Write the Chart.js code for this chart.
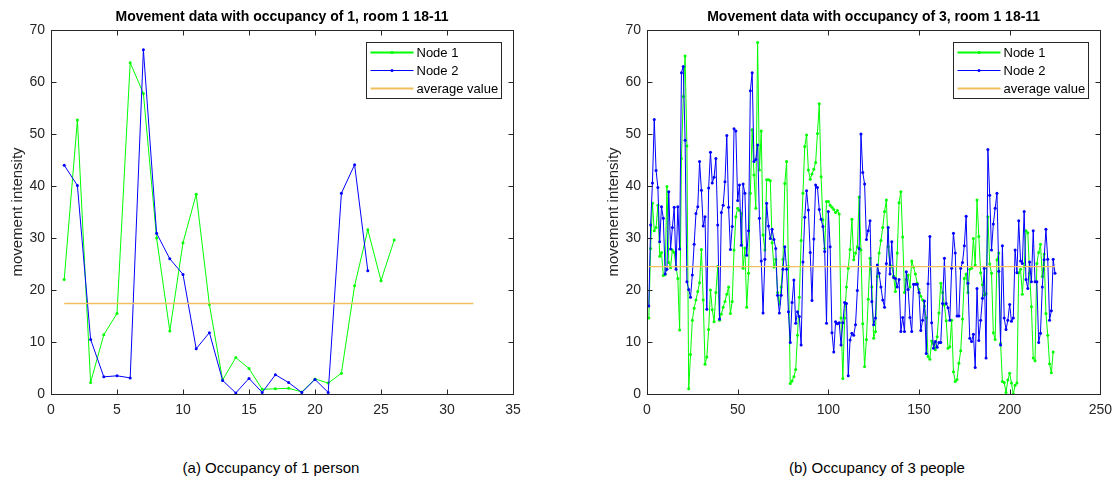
<!DOCTYPE html>
<html>
<head>
<meta charset="utf-8">
<title>Movement data</title>
<script src="https://cdn.jsdelivr.net/npm/chart.js@4.4.1/dist/chart.umd.min.js"></script>
<style>
    body {
        margin: 0;
        width: 1120px;
        height: 482px;
        position: relative;
        overflow: hidden;
        background: #fff;
        font-family: "Liberation Sans", Arial, sans-serif;
    }
    canvas { position: absolute; top: 0; }
    #graficoOcup1 { left: 0; }
    #graficoOcup3 { left: 560px; }
    .caption {
        position: absolute;
        top: 459px;
        width: 400px;
        font-size: 15px;
        line-height: 18px;
        text-align: center;
        color: #000;
    }
</style>
</head>
<body>
<canvas id="graficoOcup1" width="560" height="430"></canvas>
<canvas id="graficoOcup3" width="560" height="430"></canvas>
<div class="caption" style="left:71px">(a) Occupancy of 1 person</div>
<div class="caption" style="left:677px">(b) Occupancy of 3 people</div>

<script>
// -------------------------------
// Datos: ocupación 1 persona
// -------------------------------
const node1Occ1 = [22.0, 52.7, 2.2, 11.4, 15.5, 63.7, 57.8, 30.0, 12.1, 29.1,
    38.4, 17.2, 2.7, 7.0, 4.9, 0.9, 1.0, 1.1, 0.4, 2.9,
    2.1, 4.0, 20.8, 31.6, 21.8, 29.6];
const node2Occ1 = [44.0, 40.1, 10.5, 3.3, 3.5, 3.1, 66.2, 30.9, 26.0, 23.0,
    8.7, 11.8, 2.6, 0.2, 3.0, 0.3, 3.7, 2.2, 0.3, 2.8,
    0.3, 38.6, 44.1, 23.7];
const averageOcc1 = 17.4;
const averageRangeOcc1 = [1, 32];
const xTicksOcc1 = [0, 35, 5];

// -------------------------------
// Datos: ocupación 3 personas
// -------------------------------
const node1Occ3 = [14.6, 28.0, 36.7, 31.4, 32.0, 36.3, 26.5, 27.2, 22.8, 23.0,
    39.9, 25.3, 24.3, 27.7, 27.2, 24.5, 22.2, 12.3, 45.3, 57.2,
    65.0, 47.7, 1.0, 7.6, 14.2, 16.5, 18.1, 19.7, 21.4, 27.8,
    18.1, 5.7, 7.1, 12.4, 20.0, 16.2, 13.9, 19.5, 24.5, 14.2,
    15.4, 16.7, 17.8, 19.2, 20.6, 15.5, 17.8, 27.7, 34.1, 35.7,
    35.3, 34.7, 24.2, 28.1, 16.7, 23.2, 38.6, 50.8, 42.1, 35.7,
    67.6, 43.1, 50.6, 30.6, 27.7, 41.2, 41.2, 41.0, 29.1, 24.4,
    25.9, 19.5, 17.3, 20.6, 25.9, 40.5, 44.7, 24.5, 2.0, 2.5,
    3.3, 4.7, 11.3, 18.6, 29.5, 38.6, 47.6, 49.8, 43.1, 41.3,
    42.3, 43.2, 44.5, 50.1, 55.8, 41.8, 33.5, 28.0, 37.0, 37.0,
    36.3, 35.9, 35.5, 34.9, 35.3, 34.6, 14.6, 3.0, 14.6, 20.6,
    24.2, 27.8, 33.6, 25.8, 27.1, 28.3, 37.9, 27.7, 13.5, 5.3,
    10.5, 18.2, 26.1, 20.6, 10.7, 12.0, 22.6, 27.1, 29.5, 32.0,
    35.1, 37.3, 28.3, 24.8, 24.5, 22.7, 19.7, 27.1, 36.8, 38.9,
    30.2, 19.5, 22.0, 22.9, 20.6, 25.6, 24.4, 23.1, 21.3, 20.1,
    18.8, 18.1, 16.9, 14.6, 7.2, 6.7, 10.2, 9.7, 8.5, 11.0,
    15.6, 21.3, 19.5, 17.1, 14.1, 8.8, 9.1, 14.2, 4.3, 2.4,
    2.8, 5.9, 8.3, 14.4, 22.2, 23.1, 19.5, 24.0, 24.2, 29.9,
    24.8, 37.3, 30.3, 23.3, 21.0, 19.0, 19.3, 34.1, 25.0, 23.2,
    11.8, 10.5, 25.8, 27.1, 9.7, 2.4, 2.2, 0.3, 2.7, 4.0,
    2.1, 0.0, 1.7, 2.1, 23.3, 24.0, 19.2, 24.5, 31.4, 31.0,
    23.2, 16.8, 6.9, 6.4, 25.1, 27.2, 28.8, 22.6, 26.9, 15.5,
    11.3, 5.8, 4.1, 8.1];
const node2Occ3 = [16.9, 32.5, 40.6, 52.8, 43.0, 39.7, 29.3, 36.0, 33.8, 23.1,
    24.0, 38.9, 27.9, 32.0, 35.9, 24.0, 36.0, 27.9, 61.8, 63.0,
    48.8, 21.6, 20.1, 18.6, 22.9, 28.8, 34.7, 36.0, 44.7, 39.2,
    32.3, 34.1, 16.3, 39.6, 46.5, 40.6, 41.7, 45.3, 32.5, 14.4,
    34.9, 36.3, 40.8, 49.7, 35.9, 27.8, 32.2, 51.0, 50.6, 37.2,
    40.2, 28.6, 40.4, 38.6, 26.7, 31.4, 58.3, 61.8, 44.7, 45.1,
    47.9, 33.8, 25.6, 15.6, 25.9, 36.7, 32.3, 29.9, 31.7, 29.7,
    28.0, 19.0, 15.6, 19.0, 24.0, 28.3, 24.0, 15.8, 9.9, 17.6,
    21.9, 13.6, 15.8, 14.9, 9.4, 25.4, 34.0, 39.1, 35.4, 27.2,
    18.0, 29.8, 40.2, 39.7, 35.5, 33.6, 32.2, 27.4, 13.6, 35.1,
    28.3, 11.8, 8.1, 13.9, 13.5, 13.7, 9.4, 13.7, 17.6, 17.4,
    3.5, 10.4, 11.7, 11.3, 13.3, 19.9, 28.0, 50.0, 42.6, 40.4,
    29.7, 31.4, 33.3, 17.8, 13.3, 14.6, 24.8, 23.2, 20.6, 18.1,
    16.7, 25.1, 32.0, 23.1, 29.3, 22.4, 22.2, 20.6, 22.0, 12.0,
    14.7, 12.0, 23.5, 20.1, 14.7, 12.0, 21.1, 21.1, 21.1, 19.5,
    12.2, 14.2, 17.9, 7.8, 21.2, 30.3, 13.7, 8.8, 10.1, 9.0,
    9.9, 9.9, 17.4, 26.1, 17.4, 16.6, 14.2, 24.2, 30.9, 27.1,
    15.0, 15.0, 24.2, 25.3, 28.5, 34.2, 21.3, 10.7, 10.1, 11.5,
    5.1, 20.3, 10.3, 14.2, 18.4, 24.2, 6.9, 47.0, 38.2, 27.7,
    32.7, 35.7, 38.6, 23.6, 9.4, 28.5, 14.6, 12.4, 14.2, 17.2,
    14.0, 14.6, 27.7, 23.3, 33.3, 25.6, 25.1, 35.1, 22.0, 20.3,
    25.4, 21.6, 31.4, 21.6, 21.6, 9.9, 11.7, 20.6, 25.8, 31.7,
    25.9, 14.2, 16.0, 25.9, 23.2];
const averageOcc3 = 24.5;
const averageRangeOcc3 = [1, 225];
const xTicksOcc3 = [0, 250, 50];

const yTicks = [0, 70, 10];
const seriesLabels = ["Node 1", "Node 2", "average value"];

const FUENTE = '"Liberation Sans", Arial, sans-serif';
const COLOR_EJES = "#262626";

// -------------------------------
// Plugin: marco tipo MATLAB, título y leyenda
// -------------------------------
const marcoMatlab = {
    id: "marcoMatlab",
    afterDraw(chart, args, opts) {
        const { ctx, chartArea: a, scales } = chart;
        const L = Math.round(a.left) + 0.5, R = Math.round(a.right) + 0.5;
        const T = Math.round(a.top) + 0.5, B = Math.round(a.bottom) + 0.5;
        const len = 5;

        ctx.save();
        ctx.strokeStyle = COLOR_EJES;
        ctx.lineWidth = 1;
        ctx.strokeRect(L, T, R - L, B - T);

        // ticks hacia dentro en los cuatro lados
        ctx.beginPath();
        scales.x.ticks.forEach(t => {
            const px = Math.round(scales.x.getPixelForValue(t.value)) + 0.5;
            ctx.moveTo(px, B); ctx.lineTo(px, B - len);
            ctx.moveTo(px, T); ctx.lineTo(px, T + len);
        });
        scales.y.ticks.forEach(t => {
            const py = Math.round(scales.y.getPixelForValue(t.value)) + 0.5;
            ctx.moveTo(L, py); ctx.lineTo(L + len, py);
            ctx.moveTo(R, py); ctx.lineTo(R - len, py);
        });
        ctx.stroke();

        // título
        ctx.fillStyle = "#000";
        ctx.font = "bold 14px " + FUENTE;
        ctx.textAlign = "center";
        ctx.textBaseline = "middle";
        ctx.fillText(opts.titulo, (a.left + a.right) / 2, 17);

        // leyenda
        const w = 135, h = 56;
        const bx = Math.round(a.right) - 12 - w + 0.5;
        const by = Math.round(a.top) + 12 + 0.5;
        ctx.fillStyle = "#fff";
        ctx.fillRect(bx, by, w, h);
        ctx.strokeStyle = COLOR_EJES;
        ctx.strokeRect(bx, by, w, h);

        ctx.font = "13px " + FUENTE;
        ctx.textAlign = "left";
        chart.data.datasets.forEach((ds, i) => {
            const y = by + 10 + i * 18;
            ctx.strokeStyle = ds.borderColor;
            ctx.lineWidth = ds.legendWidth;
            ctx.beginPath();
            ctx.moveTo(bx + 4, y);
            ctx.lineTo(bx + 47, y);
            ctx.stroke();
            if (ds.pointRadius > 0) {
                ctx.fillStyle = ds.borderColor;
                ctx.beginPath();
                ctx.arc(bx + 25.5, y, 1.5, 0, Math.PI * 2);
                ctx.fill();
            }
            ctx.fillStyle = "#000";
            ctx.fillText(ds.label, bx + 50, y + 0.5);
        });
        ctx.restore();
    }
};

function aPuntos(valores) {
    return valores.map((v, i) => ({ x: i + 1, y: v }));
}

// -------------------------------
// Crear gráfico
// -------------------------------
function crearGrafico(id, titulo, nodo1, nodo2, media, rangoMedia, xTicks, padIzq, padDer) {
    const ctx = document.getElementById(id).getContext("2d");

    new Chart(ctx, {
        type: "line",
        data: {
            datasets: [
                {
                    label: seriesLabels[0],
                    data: aPuntos(nodo1),
                    borderColor: "#00ff00",
                    backgroundColor: "#00ff00",
                    borderWidth: 1,
                    pointRadius: 1.5,
                    pointBorderWidth: 0,
                    legendWidth: 2,
                    order: 3
                },
                {
                    label: seriesLabels[1],
                    data: aPuntos(nodo2),
                    borderColor: "#0000ff",
                    backgroundColor: "#0000ff",
                    borderWidth: 1,
                    pointRadius: 1.5,
                    pointBorderWidth: 0,
                    legendWidth: 1,
                    order: 2
                },
                {
                    label: seriesLabels[2],
                    data: rangoMedia.map(x => ({ x: x, y: media })),
                    borderColor: "#F0C060",
                    backgroundColor: "#F0C060",
                    borderWidth: 1.3,
                    pointRadius: 0,
                    legendWidth: 2,
                    order: 1
                }
            ]
        },
        options: {
            responsive: false,
            animation: false,
            events: [],
            layout: { padding: { left: padIzq, right: padDer, top: 30, bottom: 0 } },
            scales: {
                x: {
                    type: "linear",
                    min: xTicks[0],
                    max: xTicks[1],
                    ticks: { stepSize: xTicks[2], padding: 8, color: COLOR_EJES, font: { family: FUENTE, size: 14 } },
                    grid: { display: false, drawTicks: false },
                    border: { display: false },
                    afterFit: s => { s.height = 36; }
                },
                y: {
                    min: yTicks[0],
                    max: yTicks[1],
                    ticks: { stepSize: yTicks[2], padding: 6, color: COLOR_EJES, font: { family: FUENTE, size: 14 } },
                    grid: { display: false, drawTicks: false },
                    border: { display: false },
                    title: {
                        display: true,
                        text: "movement intensity",
                        color: COLOR_EJES,
                        font: { family: FUENTE, size: 15 },
                        padding: { top: 8.5, bottom: 0 }
                    },
                    afterFit: s => { s.width = 51; }
                }
            },
            plugins: {
                legend: { display: false },
                title: { display: false },
                tooltip: { enabled: false },
                marcoMatlab: { titulo: titulo }
            }
        },
        plugins: [marcoMatlab]
    });
}

crearGrafico("graficoOcup1", "Movement data with occupancy of 1, room 1 18-11",
    node1Occ1, node2Occ1, averageOcc1, averageRangeOcc1, xTicksOcc1, 0, 47);
crearGrafico("graficoOcup3", "Movement data with occupancy of 3, room 1 18-11",
    node1Occ3, node2Occ3, averageOcc3, averageRangeOcc3, xTicksOcc3, 36, 12);
</script>
</body>
</html>
